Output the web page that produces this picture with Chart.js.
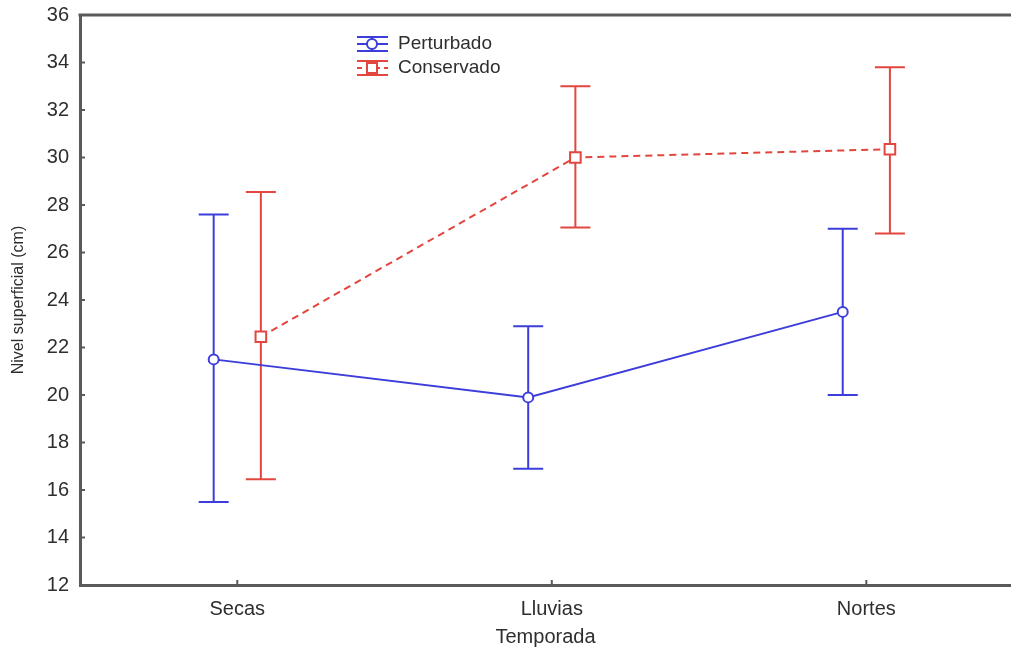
<!DOCTYPE html>
<html>
<head>
<meta charset="utf-8">
<script src="https://cdn.jsdelivr.net/npm/chart.js@4/dist/chart.umd.min.js"></script>
<style>
  html, body { margin: 0; padding: 0; background: #fff; }
  #wrap { width: 1011px; height: 652px; position: relative; }
</style>
</head>
<body>
<div id="wrap"><canvas id="c" width="1011" height="652"></canvas></div>
<script>
// ---- Data ----
const categories = ['Secas', 'Lluvias', 'Nortes'];
const yTicks = [12, 14, 16, 18, 20, 22, 24, 26, 28, 30, 32, 34, 36];
const perturbadoMean = [21.5, 19.9, 23.5];
const perturbadoLow  = [15.5, 16.9, 20.0];
const perturbadoHigh = [27.6, 22.9, 27.0];
const conservadoMean = [22.45, 30.0, 30.35];
const conservadoLow  = [16.45, 27.05, 26.8];
const conservadoHigh = [28.55, 33.0, 33.8];
const seriesNames = ['Perturbado', 'Conservado'];

const BLUE = '#3d3ddc';
const RED = '#e2463f';
const AXIS = '#5a5a5a';
const TEXT = '#2e2e2e';
const FONT = '"Liberation Sans", Arial, sans-serif';
const OFFSET = 0.075;

function pts(means, off) {
  return means.map((m, i) => ({ x: i + off, y: m }));
}

const errorBars = {
  id: 'errorBars',
  beforeDatasetsDraw(chart) {
    const ctx = chart.ctx;
    const xs = chart.scales.x, ys = chart.scales.y;
    const sets = [
      { low: perturbadoLow, high: perturbadoHigh, off: -OFFSET, color: BLUE },
      { low: conservadoLow, high: conservadoHigh, off: OFFSET, color: RED }
    ];
    ctx.save();
    ctx.lineWidth = 2;
    sets.forEach(s => {
      ctx.strokeStyle = s.color;
      s.low.forEach((lo, i) => {
        const x = xs.getPixelForValue(i + s.off);
        const y1 = ys.getPixelForValue(lo);
        const y2 = ys.getPixelForValue(s.high[i]);
        ctx.beginPath();
        ctx.moveTo(x, y1); ctx.lineTo(x, y2);
        ctx.moveTo(x - 15, y1); ctx.lineTo(x + 15, y1);
        ctx.moveTo(x - 15, y2); ctx.lineTo(x + 15, y2);
        ctx.stroke();
      });
    });
    ctx.restore();
  }
};

const frame = {
  id: 'frame',
  afterDraw(chart) {
    const ctx = chart.ctx;
    const a = chart.chartArea;
    const xs = chart.scales.x, ys = chart.scales.y;
    ctx.save();
    ctx.strokeStyle = AXIS;
    ctx.lineWidth = 3;
    ctx.beginPath();
    ctx.moveTo(a.left - 1.5, a.top);
    ctx.lineTo(a.right, a.top);
    ctx.stroke();
    ctx.lineWidth = 2;
    ys.ticks.forEach(t => {
      const y = ys.getPixelForValue(t.value);
      if (y > a.top + 2 && y < a.bottom - 2) {
        ctx.beginPath(); ctx.moveTo(a.left, y); ctx.lineTo(a.left + 5, y); ctx.stroke();
      }
    });
    categories.forEach((c, i) => {
      const x = xs.getPixelForValue(i);
      ctx.beginPath(); ctx.moveTo(x, a.bottom); ctx.lineTo(x, a.bottom - 5); ctx.stroke();
    });
    ctx.restore();
  }
};

const legendBox = {
  id: 'legendBox',
  afterDraw(chart) {
    const ctx = chart.ctx;
    const items = [
      { name: seriesNames[0], color: BLUE, dash: [], y: 44, shape: 'circle' },
      { name: seriesNames[1], color: RED, dash: [5, 4], y: 68, shape: 'rect' }
    ];
    const x0 = 357, x1 = 388, cx = 372;
    ctx.save();
    items.forEach(it => {
      ctx.strokeStyle = it.color;
      ctx.lineWidth = 2;
      ctx.setLineDash([]);
      ctx.beginPath();
      ctx.moveTo(x0, it.y - 7); ctx.lineTo(x1, it.y - 7);
      ctx.moveTo(x0, it.y + 7); ctx.lineTo(x1, it.y + 7);
      ctx.moveTo(cx, it.y - 7); ctx.lineTo(cx, it.y + 7);
      ctx.stroke();
      ctx.setLineDash(it.dash);
      ctx.beginPath();
      ctx.moveTo(x0, it.y); ctx.lineTo(x1, it.y);
      ctx.stroke();
      ctx.setLineDash([]);
      ctx.fillStyle = '#fff';
      ctx.beginPath();
      if (it.shape === 'circle') ctx.arc(cx, it.y, 5, 0, Math.PI * 2);
      else ctx.rect(cx - 5, it.y - 5, 10, 10);
      ctx.fill(); ctx.stroke();
      ctx.fillStyle = TEXT;
      ctx.font = '19px ' + FONT;
      ctx.textBaseline = 'middle';
      ctx.textAlign = 'left';
      ctx.fillText(it.name, 398, it.y);
    });
    ctx.restore();
  }
};

new Chart(document.getElementById('c'), {
  type: 'line',
  data: {
    datasets: [
      {
        label: seriesNames[0],
        data: pts(perturbadoMean, -OFFSET),
        borderColor: BLUE,
        borderWidth: 2,
        pointStyle: 'circle',
        pointRadius: 5,
        pointBorderWidth: 2,
        pointBackgroundColor: '#fff',
        pointBorderColor: BLUE,
        tension: 0
      },
      {
        label: seriesNames[1],
        data: pts(conservadoMean, OFFSET),
        borderColor: RED,
        borderWidth: 2,
        borderDash: [7, 5],
        pointStyle: 'rect',
        pointRadius: 7.5,
        pointBorderWidth: 2,
        pointBackgroundColor: '#fff',
        pointBorderColor: RED,
        tension: 0
      }
    ]
  },
  options: {
    responsive: false,
    animation: false,
    layout: { autoPadding: false, padding: { top: 15, right: 0, left: 0, bottom: 0 } },
    plugins: { legend: { display: false }, tooltip: { enabled: false } },
    scales: {
      x: {
        type: 'linear',
        min: -0.5,
        max: 2.46,
        afterBuildTicks(scale) { scale.ticks = categories.map((c, i) => ({ value: i })); },
        afterFit(scale) { scale.height = 67; scale.paddingLeft = 0; scale.paddingRight = 0; },
        ticks: {
          callback: (v) => categories[v],
          color: TEXT,
          font: { family: FONT, size: 20 },
          padding: 12,
          autoSkip: false,
          maxRotation: 0
        },
        grid: { display: true, drawOnChartArea: false, drawTicks: false },
        border: { display: true, color: AXIS, width: 3 },
        title: {
          display: true,
          text: 'Temporada',
          color: TEXT,
          font: { family: FONT, size: 20 },
          padding: { top: 4, bottom: 3 }
        }
      },
      y: {
        min: 12,
        max: 36,
        afterBuildTicks(scale) { scale.ticks = yTicks.map(v => ({ value: v })); },
        afterFit(scale) { scale.width = 80; scale.paddingTop = 0; scale.paddingBottom = 0; },
        ticks: {
          color: TEXT,
          font: { family: FONT, size: 20 },
          padding: 11
        },
        grid: { display: true, drawOnChartArea: false, drawTicks: false },
        border: { display: true, color: AXIS, width: 3 },
        title: {
          display: true,
          text: 'Nivel superficial (cm)',
          color: TEXT,
          font: { family: FONT, size: 16 },
          padding: { top: 9, bottom: 0 }
        }
      }
    }
  },
  plugins: [errorBars, frame, legendBox]
});
</script>
</body>
</html>
